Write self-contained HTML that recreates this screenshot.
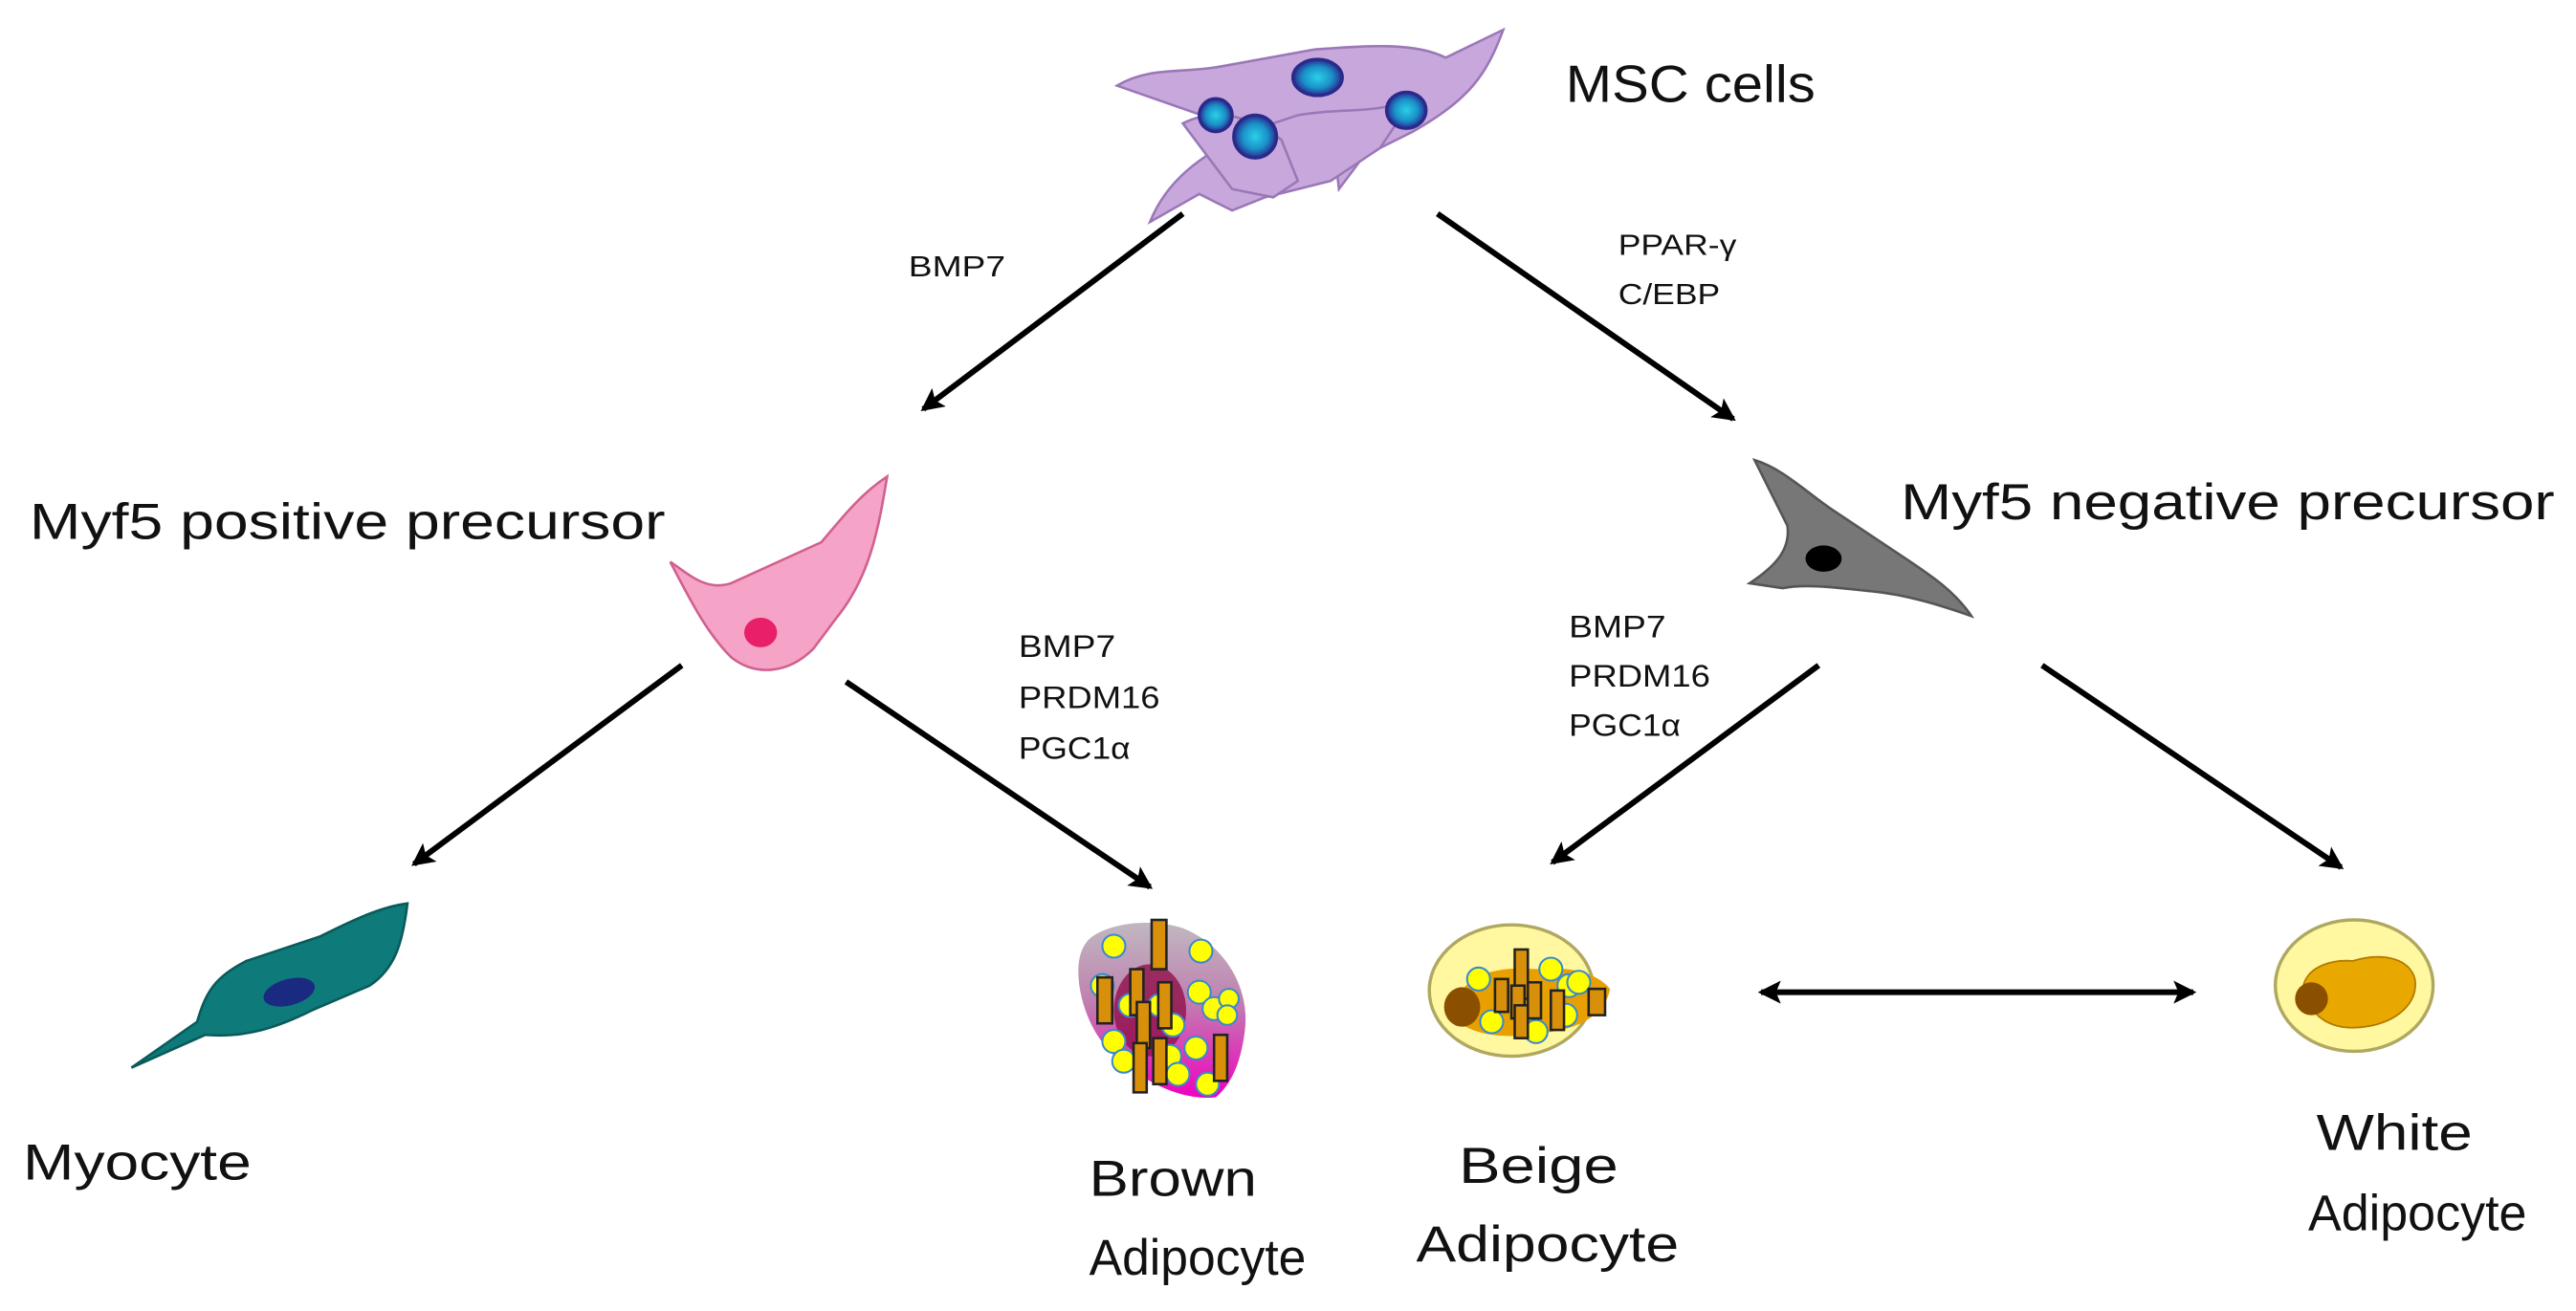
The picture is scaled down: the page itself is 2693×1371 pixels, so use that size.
<!DOCTYPE html>
<html><head><meta charset="utf-8"><style>
html,body{margin:0;padding:0;background:#fff;}
svg{display:block;}
text{font-family:"Liberation Sans",sans-serif;fill:#111;}
</style></head><body>
<svg width="2693" height="1371" viewBox="0 0 1568 798" xmlns="http://www.w3.org/2000/svg">
<defs>
<marker id="ah2" markerWidth="14" markerHeight="14" refX="12" refY="7" orient="auto-start-reverse" markerUnits="userSpaceOnUse" viewBox="0 0 14 14">
<path d="M0,0 L14,7 L0,14 L3,7 z" fill="#000"/>
</marker>
<radialGradient id="nuc"><stop offset="0" stop-color="#2ad0e8"/><stop offset="0.6" stop-color="#1a90c8"/><stop offset="1" stop-color="#2a2a90"/></radialGradient>
<linearGradient id="brn" x1="0" y1="0" x2="0" y2="1"><stop offset="0" stop-color="#c0b8c0"/><stop offset="0.45" stop-color="#c080b0"/><stop offset="1" stop-color="#f000c0"/></linearGradient>
</defs>

<g fill="#c8a8dc" stroke="#9a78b8" stroke-width="1.5">
<path d="M680,52 C700,40 720,45 745,40 L800,30 C830,28 860,25 880,35 L915,18 C905,45 895,60 860,80 L830,95 L815,115 L810,70 L760,80 Z"/>
<path d="M700,135 C710,110 730,95 760,80 L790,70 C820,65 835,70 860,60 L840,90 L810,110 L770,120 L750,128 L730,118 Z"/>
<path d="M720,75 C740,65 760,70 780,85 L790,110 L775,120 L750,115 Z"/>
</g>
<ellipse cx="802" cy="47" rx="15" ry="11" fill="url(#nuc)" stroke="#2a2a8a" stroke-width="2"/>
<ellipse cx="740" cy="70" rx="10" ry="10" fill="url(#nuc)" stroke="#2a2a8a" stroke-width="2"/>
<ellipse cx="764" cy="83" rx="13" ry="13" fill="url(#nuc)" stroke="#2a2a8a" stroke-width="2"/>
<ellipse cx="856" cy="67" rx="12" ry="11" fill="url(#nuc)" stroke="#2a2a8a" stroke-width="2"/>
<text x="953" y="62" font-size="32" textLength="152" lengthAdjust="spacingAndGlyphs">MSC cells</text>

<g stroke="#000" stroke-width="3.5" fill="none">
<line x1="720" y1="130" x2="562" y2="249" marker-end="url(#ah2)"/>
<line x1="875" y1="130" x2="1055" y2="255" marker-end="url(#ah2)"/>
<line x1="415" y1="405" x2="252" y2="526" marker-end="url(#ah2)"/>
<line x1="515" y1="415" x2="700" y2="540" marker-end="url(#ah2)"/>
<line x1="1107" y1="405" x2="945" y2="525" marker-end="url(#ah2)"/>
<line x1="1243" y1="405" x2="1425" y2="528" marker-end="url(#ah2)"/>
<line x1="1072" y1="604" x2="1335" y2="604" marker-start="url(#ah2)" marker-end="url(#ah2)"/>
</g>
<text x="553" y="168" font-size="18" textLength="59" lengthAdjust="spacingAndGlyphs">BMP7</text>
<text x="985" y="155" font-size="18" textLength="72" lengthAdjust="spacingAndGlyphs">PPAR-γ</text>
<text x="985" y="185" font-size="18" textLength="62" lengthAdjust="spacingAndGlyphs">C/EBP</text>

<text x="18" y="328" font-size="31" textLength="387" lengthAdjust="spacingAndGlyphs">Myf5 positive precursor</text>
<path d="M408,342 C420,350 430,360 445,355 L500,330 C515,312 525,300 540,290 C535,320 530,350 510,375 L495,395 C480,410 460,412 445,400 C430,385 420,365 408,342 Z" fill="#f5a3c7" stroke="#d06090" stroke-width="1.5"/>
<ellipse cx="463" cy="385" rx="10" ry="9" fill="#e8206a"/>

<text x="1157" y="316" font-size="31" textLength="398" lengthAdjust="spacingAndGlyphs">Myf5 negative precursor</text>
<path d="M1068,280 C1085,285 1100,300 1115,310 L1160,340 C1175,350 1190,360 1200,375 C1180,368 1160,362 1140,360 C1120,358 1100,355 1085,358 L1065,355 C1080,345 1090,335 1088,320 Z" fill="#777" stroke="#555" stroke-width="1.5"/>
<ellipse cx="1110" cy="340" rx="11" ry="8" fill="#000"/>

<text x="620" y="400" font-size="19" textLength="59" lengthAdjust="spacingAndGlyphs">BMP7</text>
<text x="620" y="431" font-size="19" textLength="86" lengthAdjust="spacingAndGlyphs">PRDM16</text>
<text x="620" y="462" font-size="19" textLength="68" lengthAdjust="spacingAndGlyphs">PGC1α</text>
<text x="955" y="388" font-size="19" textLength="59" lengthAdjust="spacingAndGlyphs">BMP7</text>
<text x="955" y="418" font-size="19" textLength="86" lengthAdjust="spacingAndGlyphs">PRDM16</text>
<text x="955" y="448" font-size="19" textLength="68" lengthAdjust="spacingAndGlyphs">PGC1α</text>

<path d="M80,650 L120,622 C125,605 130,595 150,585 L195,570 C215,560 232,552 248,550 C245,575 240,590 225,600 L190,615 C170,625 150,632 125,630 Z" fill="#0e7a7a" stroke="#0a5a5a" stroke-width="1.5"/>
<ellipse cx="176" cy="604" rx="16" ry="8" fill="#1a2a80" transform="rotate(-15 176 604)"/>
<text x="14" y="718" font-size="31" textLength="139" lengthAdjust="spacingAndGlyphs">Myocyte</text>

<path d="M665,570 C680,560 705,560 720,565 C745,575 760,600 758,625 C756,645 750,660 740,668 C720,670 700,660 685,648 C670,638 660,620 657,600 C655,585 658,575 665,570 Z" fill="url(#brn)"/>
<ellipse cx="700" cy="615" rx="22" ry="28" fill="#90104a" opacity="0.8"/>
<g fill="#ffff00" stroke="#3a8acc" stroke-width="1.2">
<circle cx="678" cy="576" r="7"/><circle cx="731" cy="579" r="7"/><circle cx="671" cy="600" r="7"/><circle cx="730" cy="604" r="7"/>
<circle cx="688" cy="612" r="7"/><circle cx="706" cy="612" r="7"/><circle cx="739" cy="614" r="7"/><circle cx="748" cy="608" r="6"/>
<circle cx="678" cy="634" r="7"/><circle cx="714" cy="624" r="7"/><circle cx="728" cy="638" r="7"/><circle cx="684" cy="646" r="7"/>
<circle cx="712" cy="643" r="7"/><circle cx="717" cy="654" r="7"/><circle cx="735" cy="660" r="7"/><circle cx="747" cy="618" r="6"/>
</g>
<g fill="#d8900a" stroke="#222" stroke-width="1.5">
<rect x="701" y="560" width="9" height="30"/><rect x="688" y="590" width="8" height="28"/><rect x="705" y="598" width="8" height="28"/>
<rect x="692" y="610" width="8" height="28"/><rect x="668" y="595" width="9" height="28"/>
<rect x="702" y="632" width="8" height="28"/><rect x="690" y="635" width="8" height="30"/><rect x="739" y="630" width="8" height="28"/>
</g>
<text x="663" y="728" font-size="31" textLength="102" lengthAdjust="spacingAndGlyphs">Brown</text>
<text x="663" y="776" font-size="31" textLength="132" lengthAdjust="spacingAndGlyphs">Adipocyte</text>

<ellipse cx="920" cy="603" rx="50" ry="40" fill="#fff8a0" stroke="#b0a860" stroke-width="2"/>
<path d="M888,610 C890,592 915,588 935,590 C955,588 972,592 980,602 C978,615 965,625 945,628 C925,632 905,632 892,625 Z" fill="#e8a000"/>
<ellipse cx="890" cy="613" rx="11" ry="12" fill="#8a5000"/>
<g fill="#ffff00" stroke="#3a8acc" stroke-width="1.2">
<circle cx="900" cy="596" r="7"/><circle cx="944" cy="590" r="7"/><circle cx="955" cy="600" r="7"/><circle cx="961" cy="598" r="7"/>
<circle cx="953" cy="618" r="7"/><circle cx="908" cy="622" r="7"/><circle cx="935" cy="628" r="7"/>
</g>
<g fill="#d8900a" stroke="#222" stroke-width="1.5">
<rect x="922" y="578" width="8" height="30"/><rect x="910" y="596" width="8" height="20"/><rect x="920" y="600" width="8" height="20"/>
<rect x="930" y="598" width="8" height="22"/><rect x="922" y="612" width="8" height="20"/><rect x="944" y="603" width="8" height="24"/><rect x="967" y="602" width="10" height="16"/>
</g>
<text x="888" y="720" font-size="31" textLength="97" lengthAdjust="spacingAndGlyphs">Beige</text>
<text x="862" y="768" font-size="31" textLength="160" lengthAdjust="spacingAndGlyphs">Adipocyte</text>

<ellipse cx="1433" cy="600" rx="48" ry="40" fill="#fff8a0" stroke="#b0a860" stroke-width="2"/>
<path d="M1402,600 C1405,588 1420,584 1432,585 C1448,580 1466,582 1470,596 C1472,610 1460,622 1440,625 C1420,628 1405,620 1402,600 Z" fill="#e8a800" stroke="#b07800" stroke-width="1"/>
<ellipse cx="1407" cy="608" rx="10" ry="10" fill="#8a5000"/>
<text x="1410" y="700" font-size="31" textLength="95" lengthAdjust="spacingAndGlyphs">White</text>
<text x="1405" y="749" font-size="31" textLength="133" lengthAdjust="spacingAndGlyphs">Adipocyte</text>
</svg>
</body></html>
